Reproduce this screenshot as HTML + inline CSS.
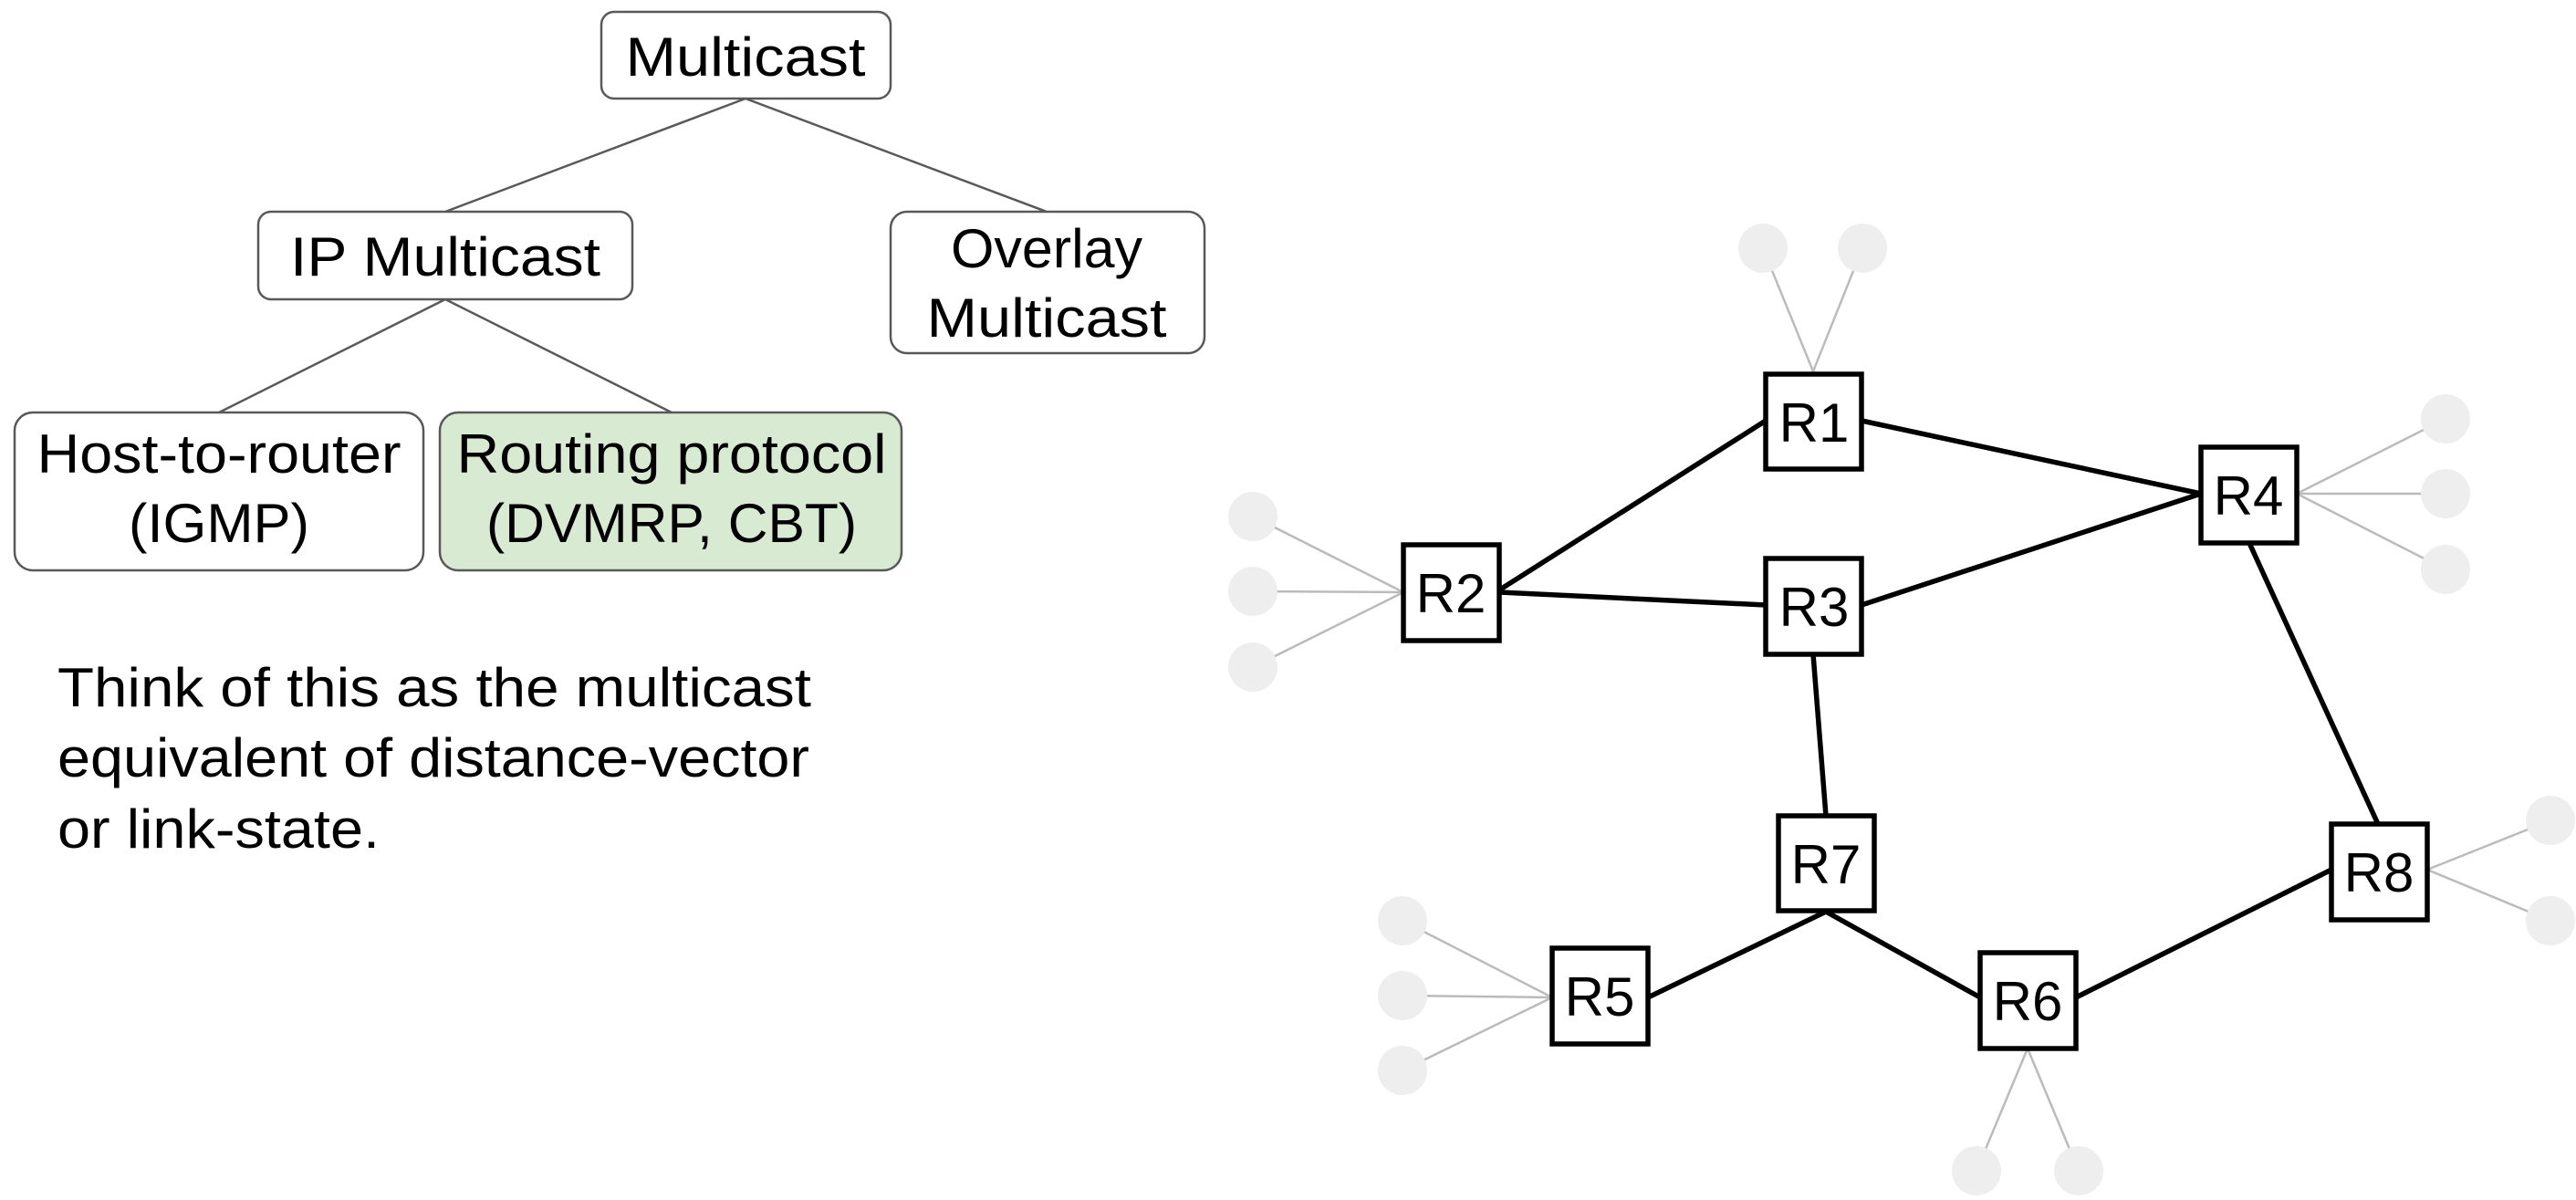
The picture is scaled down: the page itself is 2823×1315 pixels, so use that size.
<!DOCTYPE html>
<html><head><meta charset="utf-8"><style>
html,body{margin:0;padding:0;background:#fff;}
svg{display:block;}
text{font-family:"Liberation Sans",sans-serif;fill:#000;}
</style></head><body>
<svg width="2823" height="1315" viewBox="0 0 2823 1315" xmlns="http://www.w3.org/2000/svg">
<!-- tree connectors -->
<g stroke="#595959" stroke-width="2.5" fill="none">
<line x1="817" y1="108" x2="488" y2="232"/>
<line x1="817" y1="108" x2="1147" y2="232"/>
<line x1="488" y1="328" x2="240" y2="452"/>
<line x1="488" y1="328" x2="736" y2="452"/>
</g>
<g stroke="#595959" stroke-width="2.5">
<rect x="659" y="13" width="317" height="95" rx="14" fill="#fff"/>
<rect x="283" y="232" width="410" height="96" rx="14" fill="#fff"/>
<rect x="976" y="232" width="344" height="155" rx="18" fill="#fff"/>
<rect x="16" y="452" width="448" height="173" rx="20" fill="#fff"/>
<rect x="482" y="452" width="506" height="173" rx="20" fill="#d9ead3"/>
</g>
<g font-size="60" text-anchor="middle">
<text x="817" y="83" textLength="263" lengthAdjust="spacingAndGlyphs">Multicast</text>
<text x="488" y="302" textLength="340" lengthAdjust="spacingAndGlyphs">IP Multicast</text>
<text x="1147" y="293" textLength="210" lengthAdjust="spacingAndGlyphs">Overlay</text>
<text x="1147" y="369" textLength="263" lengthAdjust="spacingAndGlyphs">Multicast</text>
<text x="240" y="518" textLength="399" lengthAdjust="spacingAndGlyphs">Host-to-router</text>
<text x="240" y="594" textLength="198" lengthAdjust="spacingAndGlyphs">(IGMP)</text>
<text x="736" y="518" textLength="471" lengthAdjust="spacingAndGlyphs">Routing protocol</text>
<text x="736" y="594" textLength="406" lengthAdjust="spacingAndGlyphs">(DVMRP, CBT)</text>
</g>
<g font-size="60">
<text x="63" y="774" textLength="826" lengthAdjust="spacingAndGlyphs">Think of this as the multicast</text>
<text x="63" y="851" textLength="824" lengthAdjust="spacingAndGlyphs">equivalent of distance-vector</text>
<text x="63" y="929" textLength="353" lengthAdjust="spacingAndGlyphs">or link-state.</text>
</g>
<!-- host lines -->
<g stroke="#bbbbbb" stroke-width="2.5">
<line x1="1932" y1="272" x2="1987" y2="407"/>
<line x1="2041" y1="272" x2="1987" y2="407"/>
<line x1="1373" y1="566" x2="1538" y2="649"/>
<line x1="1373" y1="648" x2="1538" y2="649"/>
<line x1="1373" y1="731" x2="1538" y2="649"/>
<line x1="2680" y1="459" x2="2517" y2="541"/>
<line x1="2680" y1="541" x2="2517" y2="541"/>
<line x1="2680" y1="624" x2="2517" y2="541"/>
<line x1="2795" y1="899" x2="2660" y2="953"/>
<line x1="2795" y1="1009" x2="2660" y2="953"/>
<line x1="1537" y1="1009" x2="1701" y2="1093"/>
<line x1="1537" y1="1091" x2="1701" y2="1093"/>
<line x1="1537" y1="1173" x2="1701" y2="1093"/>
<line x1="2166" y1="1283" x2="2222" y2="1149"/>
<line x1="2278" y1="1283" x2="2222" y2="1149"/>
</g>
<g fill="#eeeeee">
<circle cx="1932" cy="272" r="27"/><circle cx="2041" cy="272" r="27"/>
<circle cx="1373" cy="566" r="27"/><circle cx="1373" cy="648" r="27"/><circle cx="1373" cy="731" r="27"/>
<circle cx="2680" cy="459" r="27"/><circle cx="2680" cy="541" r="27"/><circle cx="2680" cy="624" r="27"/>
<circle cx="2795" cy="899" r="27"/><circle cx="2795" cy="1009" r="27"/>
<circle cx="1537" cy="1009" r="27"/><circle cx="1537" cy="1091" r="27"/><circle cx="1537" cy="1173" r="27"/>
<circle cx="2166" cy="1283" r="27"/><circle cx="2278" cy="1283" r="27"/>
</g>
<!-- router edges -->
<g stroke="#000" stroke-width="5.5" stroke-linecap="round">
<line x1="1644" y1="646" x2="1935" y2="461"/>
<line x1="2040" y1="461" x2="2412" y2="541"/>
<line x1="1644" y1="649" x2="1935" y2="663"/>
<line x1="2040" y1="663" x2="2412" y2="541"/>
<line x1="1987" y1="717" x2="2001" y2="894"/>
<line x1="2465" y1="595" x2="2606" y2="903"/>
<line x1="2001" y1="999" x2="1806" y2="1093"/>
<line x1="2001" y1="999" x2="2170" y2="1093"/>
<line x1="2275" y1="1093" x2="2555" y2="953"/>
</g>
<g stroke="#000" stroke-width="5.5" fill="#fff">
<rect x="1935" y="410" width="105" height="104"/>
<rect x="1538" y="597" width="105" height="105"/>
<rect x="1935" y="612" width="105" height="105"/>
<rect x="2412" y="490" width="105" height="105"/>
<rect x="1949" y="894" width="105" height="104"/>
<rect x="1701" y="1039" width="105" height="105"/>
<rect x="2170" y="1044" width="105" height="105"/>
<rect x="2555" y="903" width="105" height="105"/>
</g>
<g font-size="60" text-anchor="middle">
<text x="1988" y="484">R1</text>
<text x="1590" y="671">R2</text>
<text x="1988" y="686">R3</text>
<text x="2464" y="564">R4</text>
<text x="2001" y="968">R7</text>
<text x="1753" y="1113">R5</text>
<text x="2222" y="1118">R6</text>
<text x="2607" y="977">R8</text>
</g>
</svg>
</body></html>
